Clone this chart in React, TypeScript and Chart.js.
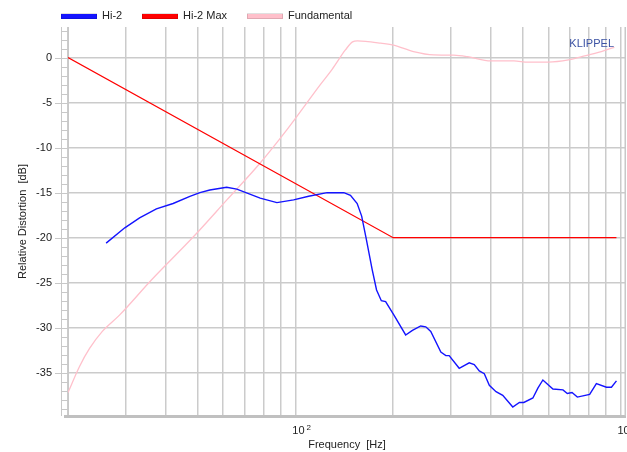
import React, { useEffect, useRef } from "react";
import { Chart, registerables } from "chart.js";

Chart.register(...registerables);

// ---- data ----
const HI2_FREQ = [26.2, 29.9, 33.2, 37.4, 42.1, 47.4, 50.9, 54.6, 61.5, 66.1, 78.0, 87.8, 98.8, 109.9, 125.3, 141, 147.8, 155, 160, 165, 172.5, 177.8, 183.9, 189.6, 201.1, 218.5, 229.2, 243.1, 251.9, 261, 280.3, 290.4, 297.3, 319.2, 342.7, 355.1, 368, 381.3, 395.1, 414.3, 434.5, 466.5, 488.9, 504.5, 537.9, 557.2, 577.3, 619.9, 665.6, 686.3, 709.6, 736.9, 804, 843.2, 905.3, 938.1, 972.1];
const HI2_DB = [-20.6, -18.9, -17.8, -16.8, -16.2, -15.4, -15.0, -14.7, -14.4, -14.6, -15.6, -16.1, -15.8, -15.4, -15.0, -15.0, -15.3, -16.2, -17.6, -20.0, -23.6, -25.8, -27.0, -27.1, -28.6, -30.8, -30.3, -29.8, -29.9, -30.4, -32.7, -33.1, -33.1, -34.5, -33.9, -34.1, -34.8, -35.1, -36.4, -37.1, -37.5, -38.8, -38.3, -38.3, -37.8, -36.7, -35.8, -36.8, -36.9, -37.3, -37.2, -37.7, -37.4, -36.2, -36.6, -36.6, -35.9];

const MAX_FREQ = [20, 200, 972];
const MAX_DB = [0, -20, -20];

const FUND_FREQ = [20, 21.7, 23.3, 25.5, 28.8, 36.1, 48.6, 61.6, 78.0, 94.3, 119.4, 129.8, 142.6, 150, 155.3, 164.5, 183, 200.5, 231, 266.6, 307, 339, 399, 470, 520, 600, 692, 760, 873, 958];
const FUND_DB = [-37.2, -34.3, -32.3, -30.4, -28.6, -24.7, -19.9, -15.8, -11.7, -8.0, -3.0, -1.3, 0.85, 1.75, 1.85, 1.8, 1.6, 1.4, 0.67, 0.3, 0.27, 0.1, -0.37, -0.37, -0.5, -0.5, -0.26, 0.1, 0.67, 1.15];

const X_TICKS = [20, 30, 40, 50, 60, 70, 80, 90, 100, 200, 300, 400, 500, 600, 700, 800, 900, 1000];
const X_LABELS = [
  { f: 100, base: "10", exp: "2" },
  { f: 1000, base: "10", exp: "3" },
];
const Y_TICKS = [0, -5, -10, -15, -20, -25, -30, -35];

const SERIES = [
  { label: "Hi-2", color: "#1414ff", width: 1.4 },
  { label: "Hi-2 Max", color: "#ff0000", width: 1.3 },
  { label: "Fundamental", color: "#ffc0cb", width: 1.3 },
];
const LEGEND_BOX_X = [61, 142, 247];

const FONT = '"Liberation Sans", Arial, sans-serif';
const TEXT = "#222222";

function pts(xs: number[], ys: number[]) {
  return xs.map((x, i) => ({ x, y: ys[i] }));
}

const decor = {
  id: "decor",
  beforeDatasetsDraw(chart: any) {
    const ctx = chart.ctx;
    const { left, right, top, bottom } = chart.chartArea;
    const ys = chart.scales.y;
    ctx.save();
    ctx.strokeStyle = "#c8c8c8";
    ctx.lineWidth = 1;
    ctx.beginPath();
    ctx.moveTo(left - 6.5, top);
    ctx.lineTo(left - 6.5, bottom);
    ctx.moveTo(left + 0.5, top);
    ctx.lineTo(left + 0.5, bottom);
    for (let v = -39; v <= 3; v++) {
      const y = Math.round(ys.getPixelForValue(v)) + 0.5;
      const x0 = v % 5 === 0 ? left - 13 : left - 7;
      ctx.moveTo(x0, y);
      ctx.lineTo(left, y);
    }
    ctx.stroke();
    ctx.fillStyle = "#c0c0c0";
    ctx.fillRect(left - 4, bottom - 1, right - left + 4, 3);
    ctx.fillStyle = "#c8c8c8";
    ctx.fillRect(right - 1.5, top, 1.5, bottom - top);
    ctx.restore();
  },
  afterDraw(chart: any) {
    const ctx = chart.ctx;
    const { left, right, top, bottom } = chart.chartArea;
    const xs = chart.scales.x;
    ctx.save();
    // legend
    ctx.font = `11px ${FONT}`;
    ctx.textBaseline = "middle";
    ctx.textAlign = "left";
    SERIES.forEach((s, i) => {
      const bx = LEGEND_BOX_X[i];
      ctx.fillStyle = s.color;
      ctx.fillRect(bx, 14, 36, 5);
      ctx.strokeStyle = "rgba(0,0,0,0.12)";
      ctx.lineWidth = 1;
      ctx.strokeRect(bx + 0.5, 13.5, 35, 5);
      ctx.fillStyle = TEXT;
      ctx.fillText(s.label, bx + 41, 15.5);
    });
    // x tick labels with exponent
    X_LABELS.forEach((l) => {
      const x = xs.getPixelForValue(l.f) - 3;
      ctx.font = `11px ${FONT}`;
      ctx.fillStyle = TEXT;
      ctx.fillText(l.base, x, 431);
      const w = ctx.measureText(l.base).width;
      ctx.font = `8px ${FONT}`;
      ctx.fillText(l.exp, x + w + 2, 428);
    });
    // axis titles
    ctx.font = `11px ${FONT}`;
    ctx.textAlign = "center";
    ctx.fillStyle = TEXT;
    ctx.fillText("Frequency  [Hz]", (left + right) / 2, 445);
    ctx.translate(23, (top + bottom) / 2);
    ctx.rotate(-Math.PI / 2);
    ctx.fillText("Relative Distortion  [dB]", 0, 0);
    ctx.restore();
    // KLIPPEL
    ctx.save();
    ctx.font = `11px ${FONT}`;
    ctx.textAlign = "right";
    ctx.textBaseline = "middle";
    ctx.fillStyle = "#3b52a3";
    ctx.fillText("KLIPPEL", right - 12, 44);
    ctx.restore();
  },
};

export default function App() {
  const ref = useRef<HTMLCanvasElement | null>(null);
  useEffect(() => {
    if (!ref.current) return;
    const chart = new Chart(ref.current, {
      type: "line",
      data: {
        datasets: [
          {
            label: SERIES[0].label,
            data: pts(HI2_FREQ, HI2_DB),
            borderColor: SERIES[0].color,
            borderWidth: SERIES[0].width,
            pointRadius: 0,
            tension: 0,
          },
          {
            label: SERIES[1].label,
            data: pts(MAX_FREQ, MAX_DB),
            borderColor: SERIES[1].color,
            borderWidth: SERIES[1].width,
            pointRadius: 0,
            tension: 0,
          },
          {
            label: SERIES[2].label,
            data: pts(FUND_FREQ, FUND_DB),
            borderColor: SERIES[2].color,
            borderWidth: SERIES[2].width,
            pointRadius: 0,
            cubicInterpolationMode: "monotone",
          },
        ],
      },
      options: {
        animation: false,
        responsive: false,
        layout: { padding: { top: 27, right: 1, left: 0, bottom: 0 } },
        plugins: { legend: { display: false }, tooltip: { enabled: false }, title: { display: false } },
        scales: {
          x: {
            type: "logarithmic",
            min: 20,
            max: 1040,
            afterBuildTicks: (s: any) => {
              s.ticks = X_TICKS.map((v) => ({ value: v }));
            },
            afterFit: (s: any) => {
              s.height = 36;
            },
            ticks: { display: false },
            grid: { color: "#cbcbcb", lineWidth: 1.5, drawTicks: false },
            border: { display: false },
          },
          y: {
            type: "linear",
            min: -39.8,
            max: 3.4,
            afterBuildTicks: (s: any) => {
              s.ticks = Y_TICKS.map((v) => ({ value: v }));
            },
            afterFit: (s: any) => {
              s.width = 68;
            },
            ticks: {
              padding: 16,
              color: TEXT,
              font: { family: FONT, size: 11 },
              callback: (v: any) => String(v),
            },
            grid: { color: "#cbcbcb", lineWidth: 1.5, drawTicks: false },
            border: { display: false },
          },
        },
      } as any,
      plugins: [decor],
    });
    return () => chart.destroy();
  }, []);
  return (
    <div style={{ position: "fixed", left: 0, top: 0, width: 627, height: 452, background: "#fff" }}>
      <canvas ref={ref} width={627} height={452} style={{ display: "block" }} />
    </div>
  );
}
